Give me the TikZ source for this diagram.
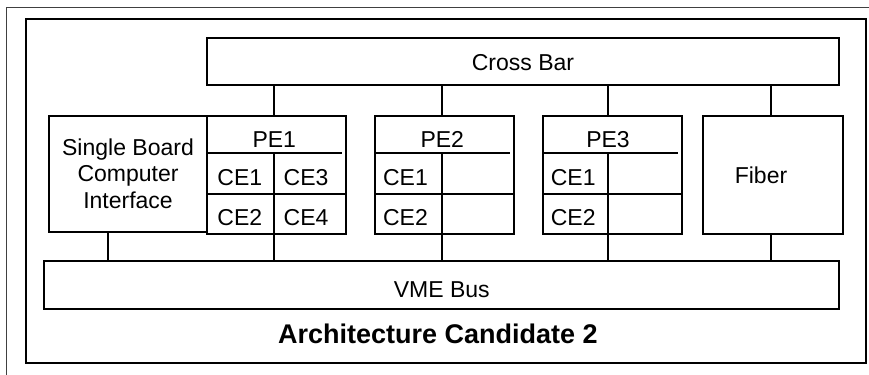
\documentclass[tikz,border=0pt]{standalone}
\usepackage{fontspec}
\setmainfont{Liberation Sans}
\usetikzlibrary{positioning}
\tikzset{
  blk/.style={draw, line width=1pt, inner sep=0pt},
  link/.style={line width=1pt},
  lbl/.style={inner sep=0pt},
}

\begin{document}
\begin{tikzpicture}[x=0.5pt,y=-0.5pt,font=\fontsize{11.5}{13.4}\selectfont]
  \useasboundingbox (0,0) rectangle (869,375);
  % page frame, cut at right and bottom
  \draw[line width=0.5pt,black!75] (869,7) -- (6,7) -- (6,375);
  \node[blk, minimum width=419.85pt, minimum height=171.85pt] (frame) at (445.85,190.85) {};

  % busses
  \node[blk, minimum width=316.3pt, minimum height=23.65pt, text height=9.4pt, text depth=0pt] (xbar) at (523,61.35) {Cross Bar};
  \node[blk, minimum width=397.5pt, minimum height=24.15pt, text height=12pt, text depth=0pt] (vme) at (441.8,285.2) {VME Bus};

  % single board computer
  \node[blk, align=center, minimum width=78.7pt, minimum height=58pt] (sbc) at (128,173.7) {Single Board\\Computer\\Interface};
  \coordinate (sbcm) at (108.3,231.7);
  \draw[link] (sbc.south -| sbcm) -- (vme.north -| sbcm);

  % processing elements
  \foreach \n/\cx/\dx/\ox in {1/276.5/274.3/10, 2/444.5/442.3/7.7, 3/612.5/608/7.4} {
    \node[blk, minimum width=69.5pt, minimum height=59.3pt] (pe\n) at (\cx,175) {};
    \node[lbl, anchor=base] (pe\n-t) at (\dx,148) {PE\n};
    \coordinate (mid\n) at (\dx,152.7);
    \draw[link] (\cx-69.5,152.7) -- (\cx+65.5,152.7);
    \draw[link] (\cx-69.5,193.5) -- (\cx+69.5,193.5);
    \draw[link] (mid\n) -- (mid\n |- pe\n.south);
    \node[lbl, anchor=base west] (pe\n-c1) at (\cx-69.5+\ox,185.7) {CE1};
    \node[lbl, anchor=base west] (pe\n-c2) at (\cx-69.5+\ox,225) {CE2};
    \draw[link] (xbar.south -| mid\n) -- (pe\n.north -| mid\n);
    \draw[link] (pe\n.south -| mid\n) -- (vme.north -| mid\n);
  }
  \node[lbl, anchor=base west] (pe1-c3) at (283.3,185.7) {CE3};
  \node[lbl, anchor=base west] (pe1-c4) at (283.3,225) {CE4};

  % fiber
  \node[blk, minimum width=70pt, minimum height=59.3pt] (fiber) at (772.7,175) {};
  \node[lbl, anchor=base] (fiber-t) at (761,183.3) {Fiber};
  \coordinate (fibm) at (770.7,175);
  \draw[link] (xbar.south -| fibm) -- (fiber.north -| fibm);
  \draw[link] (fiber.south -| fibm) -- (vme.north -| fibm);

  \node[lbl, anchor=base, font=\fontsize{13.5}{16}\selectfont\bfseries] (title) at (438,343.3) {Architecture Candidate 2};
\end{tikzpicture}
\end{document}
